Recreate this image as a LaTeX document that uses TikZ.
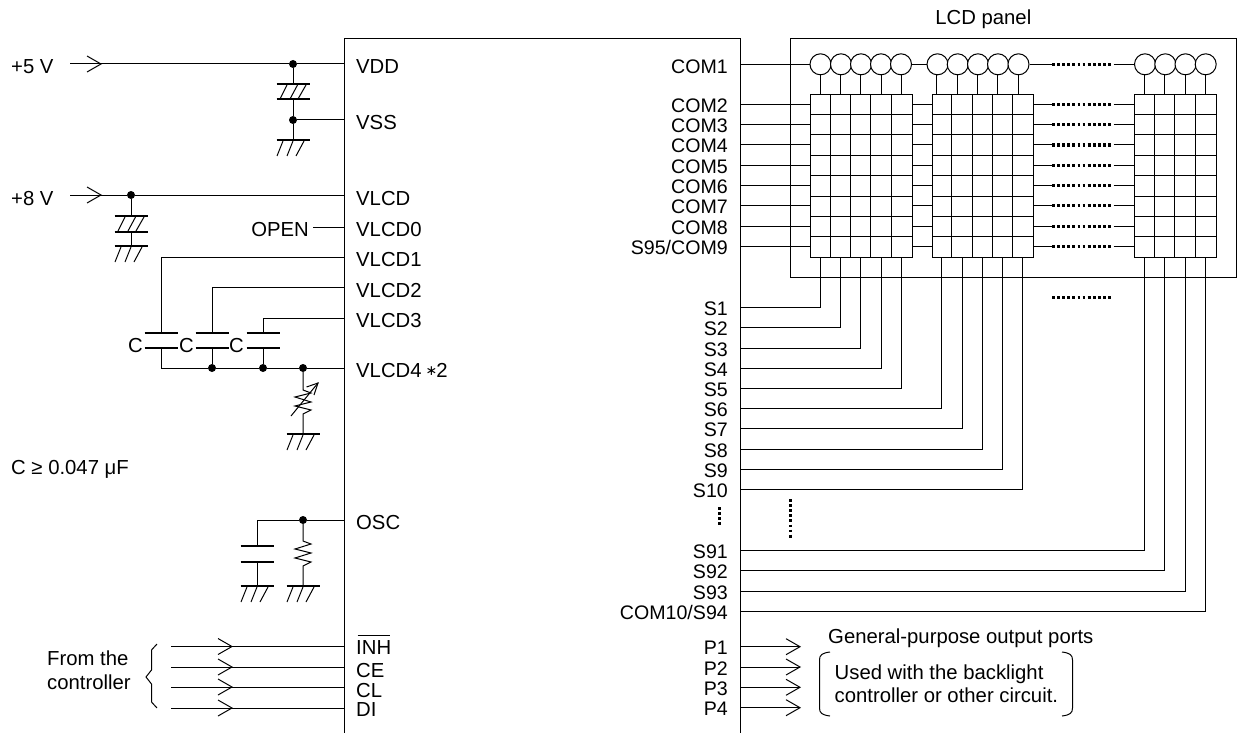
\documentclass[tikz,border=0pt]{standalone}
\usepackage{fontspec}
\setmainfont{Liberation Sans}
\newfontfamily\symfont{DejaVu Sans}
\begin{document}
\begin{tikzpicture}[x=1pt,y=-1pt,
  wire/.style={line width=1pt,line cap=butt},
  plate/.style={line width=2pt},
  junction/.style={circle,fill=black,draw=none,inner sep=0pt,minimum size=8pt},
  lbl/.style={inner sep=0pt,font=\fontsize{20.3}{22}\selectfont},
  pinL/.style={lbl,anchor=base west},
  pinR/.style={lbl,anchor=base east},
  chipR/.style={pinR,font=\fontsize{19.6}{22}\selectfont},
  cell/.style={circle,draw,line width=1pt,fill=white,inner sep=0pt,minimum size=21pt},
  dotted wire/.style={line width=3pt,dash pattern=on 2.8pt off 2.3pt},
  gnd/.pic={
    \draw[plate] (-16.5,0) -- (16.5,0);
    \foreach \q/\r in {-10/-16,0/-6,11/3} \draw[wire] (\q,1) -- (\r,16);
  },
  hatchcap/.pic={
    \draw[plate] (-16.5,0) -- (16.5,0);
    \draw[plate] (-16.5,15.5) -- (16.5,15.5);
    \foreach \q/\r in {-6/-13,4.5/-3,13/5} \draw[wire] (\q,1) -- (\r,15);
  },
  capacitor/.pic={
    \draw[plate] (-16.5,0) -- (16.5,0);
    \draw[plate] (-16.5,15.5) -- (16.5,15.5);
  },
  inarrow/.pic={
    \draw[wire] (-14,-8) -- (0,0) -- (-14,8);
  }]
\useasboundingbox (0,0) rectangle (1239,733);

% chip outline
\coordinate (chipBL) at (344,733);
\coordinate (chipTL) at (344,39);
\coordinate (chipTR) at (740,39);
\coordinate (chipBR) at (740,733);
\draw[wire] (chipBL) -- (chipTL) -- (chipTR) -- (chipBR);

% left side pins
\foreach \n/\t/\y/\b in {VDD/VDD/64/74,VSS/VSS/120/129.5,VLCD/VLCD/195/205,VLCDa/VLCD0/227/236,VLCDb/VLCD1/257/266,VLCDc/VLCD2/287/297,VLCDd/VLCD3/318/327,VLCDe/{VLCD4\kern4pt\raisebox{2pt}{\symfont\fontsize{14}{14}\selectfont∗}\kern-1pt 2}/368/377.5,OSC/OSC/520/529}{
  \coordinate (p\n) at (344,\y);
  \node[pinL] (l\n) at (356,\b) {\t};
}
\foreach \n/\y in {INH/646.5,CE/667,CL/687,DI/708}{
  \coordinate (p\n) at (344,\y);
}
\node[pinL] (lINH) at (356,654) {INH};
\draw[wire] (357.5,635) -- (390,635);
\node[pinL] (lCE) at (356,677) {CE};
\node[pinL] (lCL) at (356,697) {CL};
\node[pinL] (lDI) at (356,716.5) {DI};

% supply
\node[pinL] (v5) at (11,74) {+5 V};
\node[pinL] (v8) at (11,205) {+8 V};
\coordinate (in5) at (70,64);
\coordinate (in8) at (70,195);
\node[junction] (j5) at (293,64) {};
\node[junction] (jss) at (293,120) {};
\node[junction] (j8) at (131,195) {};
\draw[wire] (in5) -- (j5) -- (pVDD);
\draw[wire] (in8) -- (j8) -- (pVLCD);
\pic at (101,64) {inarrow};
\pic at (101,195) {inarrow};
\coordinate (g1) at (293,140);
\coordinate (g2) at (131,246);
\coordinate (k1) at (293,84);
\coordinate (k1b) at (293,99.5);
\coordinate (k2) at (131,216);
\coordinate (k2b) at (131,231.5);
\draw[wire] (j5) -- (k1);
\draw[wire] (k1b) -- (jss) -- (g1);
\draw[wire] (jss) -- (pVSS);
\draw[wire] (j8) -- (k2);
\draw[wire] (k2b) -- (g2);
\pic at (k1) {hatchcap};
\pic at (g1) {gnd};
\pic at (k2) {hatchcap};
\pic at (g2) {gnd};

% OPEN
\node[pinR] (open) at (309,236) {OPEN};
\coordinate (openE) at (313,227);
\draw[wire] (openE) -- (pVLCDa);

% VLCD network
\coordinate (ca) at (161,257);
\coordinate (cb) at (212,287);
\coordinate (cc) at (263,318);
\coordinate (cab) at (161,368);
\node[junction] (jb) at (212,368) {};
\node[junction] (jc) at (263,368) {};
\node[junction] (jd) at (303,368) {};
\draw[wire] (pVLCDb) -- (ca) -- (161,333);
\draw[wire] (pVLCDc) -- (cb) -- (212,333);
\draw[wire] (pVLCDd) -- (cc) -- (263,333);
\draw[wire] (161,348) -- (cab) -- (jb) -- (jc) -- (jd) -- (pVLCDe);
\draw[wire] (jb) -- (212,348);
\draw[wire] (jc) -- (263,348);
\pic at (161,332.7) {capacitor};
\pic at (212,332.7) {capacitor};
\pic at (263,332.7) {capacitor};
\node[pinL] (c1) at (128,352) {C};
\node[pinL] (c2) at (179,352) {C};
\node[pinL] (c3) at (229,352) {C};
% variable resistor
\coordinate (g3) at (303,434);
\draw[wire,line join=miter] (jd) -- (303,390) -- (311,393) -- (295,397) -- (311,402) -- (295,406) -- (311,410) -- (303,414) -- (g3);
\draw[wire] (291,416) -- (318,383);
\draw[wire] (306.5,387) -- (318,383) -- (314,395);
\pic at (g3) {gnd};

\node[pinL] (cval) at (11,474) {C ≥ 0.047 μF};

% OSC
\coordinate (oc) at (257,520);
\node[junction] (josc) at (303,520) {};
\coordinate (g4) at (257,586);
\coordinate (g5) at (303,586);
\draw[wire] (pOSC) -- (josc) -- (oc) -- (257,546);
\draw[wire] (257,561) -- (g4);
\draw[wire] (josc) -- (303,541) -- (311,544) -- (295,549) -- (311,553) -- (295,558) -- (311,562) -- (303,566) -- (g5);
\pic at (257,546) {capacitor};
\pic at (g4) {gnd};
\pic at (g5) {gnd};

% controller inputs
\foreach \n/\y in {INH/646.5,CE/667,CL/687,DI/708}{
  \coordinate (s\n) at (171,\y);
  \draw[wire] (s\n) -- (p\n);
  \pic at (232,\y) {inarrow};
}
\draw[wire] (157,644) -- (151.5,650) -- (151.5,670) -- (146,677) -- (151.5,684) -- (151.5,702) -- (157,708);
\node[pinL] (from1) at (47,665) {From the};
\node[pinL] (from2) at (47,689) {controller};

% panel
\node[lbl,anchor=base east] (panel) at (1031.5,25) {LCD panel};
\coordinate (pa) at (790,39);
\coordinate (pb) at (1236,277);
\draw[wire] (pa) rectangle (pb);

% first row
\coordinate (cm1) at (740,64.3);
\foreach \i/\x in {1/820.5,2/841,3/861,4/881,5/901}{\node[cell] (a\i) at (\x,64.3) {};}
\foreach \i/\x in {1/937.5,2/957.7,3/978,4/998,5/1018.5}{\node[cell] (b\i) at (\x,64.3) {};}
\foreach \i/\x in {1/1145,2/1165.3,3/1185.5,4/1205.7}{\node[cell] (d\i) at (\x,64.3) {};}
\draw[wire] (cm1) -- (a1);
\draw[wire] (a5) -- (b1);
\draw[wire] (b5) -- (1052,64.3);
\draw[wire] (1113.5,64.3) -- (d1);
\draw[dotted wire] (1052,64.3) -- (1112,64.3);

% grids
\foreach \xa/\xb/\cols/\ct in {810/912/{830,850.3,870.7,891}/{820.3,840.5,860.7,881,901},
   932/1033/{951.7,972,992,1012.5}/{936.7,957,977,997.5,1018},
   1134.7/1216/{1154.3,1174.7,1195}/{1144.5,1164.7,1185,1205.2}}{
  \draw[wire] (\xa,95) rectangle (\xb,257);
  \foreach \c in \cols \draw[wire] (\c,95) -- (\c,257);
  \foreach \r in {114.5,135,155,175.5,196,216,236.5} \draw[wire] (\xa,\r) -- (\xb,\r);
  \foreach \c in \ct \draw[wire] (\c,75) -- (\c,95);
}

% COM lines
\foreach \t/\y in {COM2/104.5,COM3/124.7,COM4/145,COM5/165,COM6/185.7,COM7/205.7,COM8/226,{S95/COM9}/246.3}{
  \node[chipR] at (728,\y+8) {\t};
  \draw[wire] (740,\y) -- (810,\y);
  \draw[wire] (912,\y) -- (932,\y);
  \draw[wire] (1033,\y) -- (1052,\y);
  \draw[wire] (1113.5,\y) -- (1134.7,\y);
  \draw[dotted wire] (1052,\y) -- (1112,\y);
}
\node[chipR] (com1) at (728,74) {COM1};
\draw[dotted wire] (1052,297) -- (1112,297);

% segment lines
\foreach \t/\y/\x/\ys in {S1/307/820.3/257,S2/327.5/840.5/257,S3/348/860.7/257,S4/368/881/257,S5/388/901/257,
  S6/408.5/941.7/257,S7/428.5/962/257,S8/449/982/257,S9/469/1002.5/257,S10/489.5/1022.7/257,
  S91/550/1144.3/257,S92/570.5/1164.7/257,S93/591/1185/257,{COM10/S94}/611/1205.2/257}{
  \node[chipR] at (728,\y+8) {\t};
  \draw[wire,line join=miter] (740,\y) -- (\x,\y) -- (\x,\ys);
}
\draw[dotted wire] (790.5,499) -- (790.5,538);
\draw[dotted wire] (719.5,507) -- (719.5,525);

% output ports
\foreach \t/\y in {P1/646.7,P2/667,P3/687.3,P4/707.7}{
  \coordinate (o\t) at (800,\y);
  \node[chipR] at (728,\y+8) {\t};
  \draw[wire] (740,\y) -- (o\t);
  \pic at (o\t) {inarrow};
}
\node[pinL] (gp) at (828,643) {General-purpose output ports};
\node[pinL] (use1) at (834.5,679) {Used with the backlight};
\node[pinL] (use2) at (834.5,702.7) {controller or other circuit.};
\draw[wire] (830,652) .. controls (822,653) and (819.5,655) .. (819.5,660) -- (819.5,708) .. controls (819.5,713) and (822,715) .. (830,716);
\draw[wire] (1062,652) .. controls (1070,653) and (1072.5,655) .. (1072.5,660) -- (1072.5,708) .. controls (1072.5,713) and (1070,715) .. (1062,716);
\end{tikzpicture}
\end{document}
